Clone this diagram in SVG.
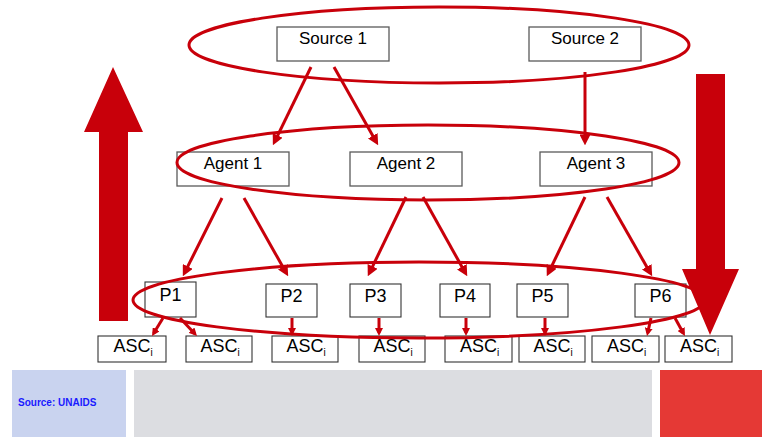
<svg xmlns="http://www.w3.org/2000/svg" width="762" height="437" viewBox="0 0 762 437">
<style>
.box{fill:#fff;stroke:#5a5a5a;stroke-width:1.3}
.abox{fill:#fff;stroke:#333;stroke-width:1.1}
.lbl{font-family:"Liberation Sans",Arial,sans-serif;font-size:17px;fill:#000;text-anchor:middle}
.lg{font-size:18px}
.ring{fill:none;stroke:#c8000a;stroke-width:3}
.con{stroke:#c8000a;stroke-width:3;fill:none}
.big{fill:#c8000a}
</style>
<defs>
<marker id="ah" viewBox="0 0 10 10" refX="6" refY="5" markerWidth="11" markerHeight="11" markerUnits="userSpaceOnUse" orient="auto"><path d="M0,0 L10,5 L0,10 z" fill="#c8000a"/></marker>
<marker id="ahs" viewBox="0 0 10 10" refX="6" refY="5" markerWidth="8" markerHeight="8" markerUnits="userSpaceOnUse" orient="auto"><path d="M0,0 L10,5 L0,10 z" fill="#c8000a"/></marker>
</defs>
<rect width="762" height="437" fill="#fff"/>
<g id="footer">
<rect x="12" y="370" width="114" height="67" fill="#c9d3ef"/>
<rect x="134" y="370" width="518" height="67" fill="#dcdde1"/>
<rect x="660" y="370" width="102" height="67" fill="#e53935"/>
<text x="18" y="406" font-family="'Liberation Sans',Arial,sans-serif" font-size="10" font-weight="bold" fill="#1a1aff">Source: UNAIDS</text>
</g>
<g id="source1"><rect class="box" x="277" y="27" width="112" height="34"/><text class="lbl" x="333" y="44">Source 1</text></g>
<g id="source2"><rect class="box" x="529" y="27" width="112" height="34"/><text class="lbl" x="585" y="44">Source 2</text></g>
<g id="agent1"><rect class="box" x="177" y="152" width="112" height="34"/><text class="lbl" x="233" y="169">Agent 1</text></g>
<g id="agent2"><rect class="box" x="350" y="152" width="112" height="34"/><text class="lbl" x="406" y="169">Agent 2</text></g>
<g id="agent3"><rect class="box" x="540" y="152" width="112" height="34"/><text class="lbl" x="596" y="169">Agent 3</text></g>
<g id="p1"><rect class="abox" x="145" y="282" width="51" height="35"/><text class="lbl lg" x="170.5" y="301">P1</text></g>
<g id="p2"><rect class="abox" x="266" y="284" width="51" height="33"/><text class="lbl lg" x="291.5" y="302">P2</text></g>
<g id="p3"><rect class="abox" x="350" y="284" width="51" height="33"/><text class="lbl lg" x="375.5" y="302">P3</text></g>
<g id="p4"><rect class="abox" x="440" y="284" width="50" height="33"/><text class="lbl lg" x="465" y="302">P4</text></g>
<g id="p5"><rect class="abox" x="517" y="284" width="51" height="33"/><text class="lbl lg" x="542.5" y="302">P5</text></g>
<g id="p6"><rect class="abox" x="635" y="284" width="51" height="33"/><text class="lbl lg" x="660.5" y="302">P6</text></g>
<g id="asc1"><rect class="abox" x="98" y="336" width="68" height="26"/><text class="lbl lg" x="133" y="352">ASC<tspan font-size="10" dy="4">i</tspan></text></g>
<g id="asc2"><rect class="abox" x="186" y="336" width="66" height="26"/><text class="lbl lg" x="220" y="352">ASC<tspan font-size="10" dy="4">i</tspan></text></g>
<g id="asc3"><rect class="abox" x="272" y="336" width="66" height="26"/><text class="lbl lg" x="306" y="352">ASC<tspan font-size="10" dy="4">i</tspan></text></g>
<g id="asc4"><rect class="abox" x="359" y="336" width="66" height="26"/><text class="lbl lg" x="393" y="352">ASC<tspan font-size="10" dy="4">i</tspan></text></g>
<g id="asc5"><rect class="abox" x="445" y="336" width="67" height="26"/><text class="lbl lg" x="479.5" y="352">ASC<tspan font-size="10" dy="4">i</tspan></text></g>
<g id="asc6"><rect class="abox" x="519" y="336" width="66" height="26"/><text class="lbl lg" x="553" y="352">ASC<tspan font-size="10" dy="4">i</tspan></text></g>
<g id="asc7"><rect class="abox" x="592" y="336" width="67" height="26"/><text class="lbl lg" x="626.5" y="352">ASC<tspan font-size="10" dy="4">i</tspan></text></g>
<g id="asc8"><rect class="abox" x="665" y="336" width="67" height="26"/><text class="lbl lg" x="699.5" y="352">ASC<tspan font-size="10" dy="4">i</tspan></text></g>
<g id="groups">
<ellipse class="ring" cx="439" cy="45" rx="250" ry="38"/>
<ellipse class="ring" cx="428" cy="162.5" rx="251" ry="37.5"/>
<ellipse class="ring" cx="419" cy="300" rx="286" ry="38"/>
</g>
<g id="connectors">
<line class="con" marker-end="url(#ah)" x1="311" y1="67" x2="274.8" y2="141.4"/>
<line class="con" marker-end="url(#ah)" x1="334" y1="67" x2="376" y2="141.5"/>
<line class="con" marker-end="url(#ah)" x1="585" y1="72" x2="585" y2="141"/>
<line class="con" marker-end="url(#ah)" x1="222" y1="198" x2="184.8" y2="272.4"/>
<line class="con" marker-end="url(#ah)" x1="244" y1="198" x2="286" y2="272.5"/>
<line class="con" marker-end="url(#ah)" x1="406" y1="197" x2="369.7" y2="272.4"/>
<line class="con" marker-end="url(#ah)" x1="423" y1="197" x2="465.1" y2="272.5"/>
<line class="con" marker-end="url(#ah)" x1="585" y1="197" x2="548.7" y2="272.4"/>
<line class="con" marker-end="url(#ah)" x1="607" y1="197" x2="650" y2="272.5"/>
<line class="con" marker-end="url(#ahs)" x1="163" y1="318" x2="153.7" y2="333.3"/>
<line class="con" marker-end="url(#ahs)" x1="180" y1="318" x2="194.8" y2="333.7"/>
<line class="con" marker-end="url(#ahs)" x1="292" y1="318" x2="292" y2="332.8"/>
<line class="con" marker-end="url(#ahs)" x1="379" y1="318" x2="379" y2="332.8"/>
<line class="con" marker-end="url(#ahs)" x1="466" y1="318" x2="466" y2="332.8"/>
<line class="con" marker-end="url(#ahs)" x1="545" y1="318" x2="545" y2="332.8"/>
<line class="con" marker-end="url(#ahs)" x1="651" y1="318" x2="647.7" y2="332.9"/>
<line class="con" marker-end="url(#ahs)" x1="675" y1="318" x2="683.4" y2="333.2"/>
<polygon class="big" points="113,67 143,132 128,132 128,321 99,321 99,132 84,132"/>
<polygon class="big" points="696,74 725,74 725,269 739,269 710,335 682,269 696,269"/>
</g>
</svg>
